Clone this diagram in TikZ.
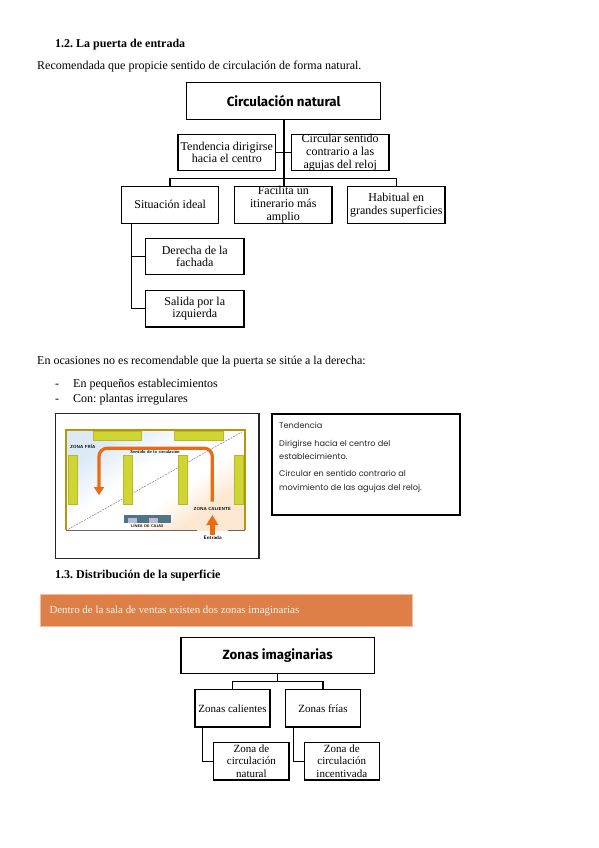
\documentclass[tikz,border=0pt]{standalone}
\usepackage{fontspec}
\setmainfont{Liberation Serif}
\newfontfamily\geofont{Poppins}
\newfontfamily\markfont{Fira Sans}
\usetikzlibrary{arrows.meta,calc}
\definecolor{shelfgreen}{HTML}{CFD533}
\definecolor{shelfedge}{HTML}{B5B92A}
\definecolor{flow}{HTML}{EE6A10}
\definecolor{gold}{HTML}{B8960C}
\definecolor{band}{HTML}{DD7F47}
\definecolor{bandedge}{HTML}{F2BE9C}
\definecolor{till}{HTML}{4F7486}
\definecolor{tillscreen}{HTML}{B9B9DC}
\definecolor{washblue}{HTML}{DCEAF7}
\definecolor{washpeach}{HTML}{FCE8D2}
\pgfdeclareverticalshading{planwash}{100bp}{color(0bp)=(washpeach); color(30bp)=(washpeach); color(42bp)=(white); color(56bp)=(white); color(72bp)=(washblue); color(100bp)=(washblue)}
\frenchspacing
\tikzset{
  x=1pt,y=-1pt,
  doc/.style={anchor=base west,inner sep=0,font=\fontsize{12}{13}\selectfont},
  head/.style={doc,font=\fontsize{12}{13}\selectfont\bfseries},
  bx/.style={draw=black,line width=1.2pt,fill=white,inner sep=0,align=center,font=\fontsize{12}{12.7}\selectfont,outer sep=0},
  smallbx/.style={bx,font=\fontsize{11}{12.7}\selectfont},
  titlebx/.style={bx,font=\fontsize{13.3}{14}\selectfont\markfont\bfseries},
  link/.style={draw=black,line width=1.1pt},
  shelf/.style={draw=shelfedge,line width=.5pt,fill=shelfgreen},
  flowline/.style={draw=flow,line width=3.2pt},
  tiny/.style={inner sep=0,font=\fontsize{4.4}{5}\selectfont\sffamily\bfseries},
  note/.style={anchor=base west,inner sep=0,text=black!85,font=\fontsize{8.2}{9}\selectfont\geofont},
}
\begin{document}
\begin{tikzpicture}
\useasboundingbox (0,0) rectangle (599,848);
\fill[white] (0,0) rectangle (599,848);

% page text
\node[head] (h1) at (55,47.5) {1.2. La puerta de entrada};
\node[doc] (p1) at (37,70) {Recomendada que propicie sentido de circulación de forma natural.};
\node[doc] (p2) at (37,364.3) {En ocasiones no es recomendable que la puerta se sitúe a la derecha:};
\node[doc] (d1) at (55,387.5) {-};
\node[doc] (l1) at (73,387.5) {En pequeños establecimientos};
\node[doc] (d2) at (55,402.5) {-};
\node[doc] (l2) at (73,402.5) {Con: plantas irregulares};
\node[head] (h2) at (55,578.5) {1.3. Distribución de la superficie};

% first chart
\node[titlebx,minimum width=194,minimum height=36.6] (cn) at (283.7,101) {Circulación natural};
\node[bx,minimum width=97.7,minimum height=36.4] (ten) at (226.8,152.5) {Tendencia dirigirse\\hacia el centro};
\node[bx,minimum width=97.7,minimum height=36.4] (cir) at (340.2,152.5) {Circular sentido\\contrario a las\\agujas del reloj};
\node[bx,minimum width=97,minimum height=37] (sit) at (170.2,204.8) {Situación ideal};
\node[bx,minimum width=97.3,minimum height=37] (fac) at (283.3,204.8) {Facilita un\\itinerario más\\amplio};
\node[bx,minimum width=97.3,minimum height=37] (hab) at (396.3,204.8) {Habitual en\\grandes superficies};
\node[bx,minimum width=98.3,minimum height=36.4] (der) at (194.8,256.5) {Derecha de la\\fachada};
\node[bx,minimum width=98.3,minimum height=36.7] (sal) at (194.8,308.6) {Salida por la\\izquierda};
\coordinate (hub) at (284,178.3);
\coordinate (leftdrop) at (170,178.3);
\coordinate (rightdrop) at (396.5,178.3);
\coordinate (stem) at (131.7,223.3);
\draw[link] (cn.south -| hub) -- (hub);
\draw[link] (ten.east) -- (cir.west);
\draw[link] (sit.north -| leftdrop) -- (leftdrop) -- (rightdrop) -- (hab.north -| rightdrop);
\draw[link] (hub) -- (fac.north -| hub);
\draw[link] (stem) -- (stem |- sal.west) -- (sal.west);
\draw[link] (stem |- der.west) -- (der.west);

% plan picture
\draw[black!85,line width=1.5pt,fill=white] (55.3,413.3) rectangle (259,558.3);
\shade[shading=planwash,shading angle=35] (66,430) rectangle (245,530.5);
\draw[gold,line width=1.2pt] (66,530) -- (66,430) -- (245,430) -- (245,530);
\draw[black!60,line width=1pt] (66,530.3) -- (196.7,530.3);
\draw[black!60,line width=1pt] (227.7,530.3) -- (245,530.3);
\draw[black!55,line width=.45pt,dash pattern=on 2pt off 1pt] (68.3,529.3) -- (242.3,431.7);
\draw[shelf] (93.3,431.7) rectangle (141.7,440.7);
\draw[shelf] (174.7,431.7) rectangle (223.3,440.7);
\draw[shelf] (68.7,455.7) rectangle (77.3,504.3);
\draw[shelf] (123.3,455.7) rectangle (132.7,504.3);
\draw[shelf] (178.3,455.7) rectangle (187.7,504.3);
\draw[shelf] (234.7,455.7) rectangle (243.7,504.3);
\fill[till] (124.3,515) rectangle (170.7,523.3);
\fill[tillscreen] (128,518) rectangle (137,523.3);
\fill[tillscreen] (149,518) rectangle (158,523.3);
\draw[flowline,rounded corners=8pt,-{Triangle[length=8pt,width=10pt]}] (212.3,501.5) -- (212.3,448.3) -- (99,448.3) -- (99,495);
\draw[flowline,line width=4.5pt,-{Triangle[length=10pt,width=11.5pt]}] (212.3,535) -- (212.3,515);
\node[tiny] (zf) at (82.7,446.7) {ZONA FRÍA};
\node[tiny] (sc) at (155,452) {Sentido de la circulación};
\node[tiny] (zc) at (212.3,508.7) {ZONA CALIENTE};
\node[tiny,font=\fontsize{3.8}{5}\selectfont\sffamily\bfseries] (lc) at (147.3,525.8) {LÍNEA DE CAJAS};
\node[tiny,font=\fontsize{5}{6}\selectfont\sffamily\bfseries] (en) at (212.7,537.5) {Entrada};

% note box
\draw[black,line width=2pt,fill=white] (272.3,414.3) rectangle (460,515);
\node[note] (n1) at (279,428) {Tendencia};
\node[note] (n2) at (279,446) {Dirigirse hacia el centro del};
\node[note] (n3) at (279,459.3) {establecimiento.};
\node[note] (n4) at (279,476.7) {Circular en sentido contrario al};
\node[note] (n5) at (279,490.3) {movimiento de las agujas del reloj.};

% band
\draw[bandedge,line width=1pt,fill=band] (40,594) rectangle (412.7,626);
\node[anchor=base west,inner sep=0,text=white!92!band,font=\fontsize{10.9}{12}\selectfont] (bt) at (49.3,613.7) {Dentro de la sala de ventas existen dos zonas imaginarias};

% second chart
\node[titlebx,minimum width=193.3,minimum height=36.4] (zi) at (277.7,655.5) {Zonas imaginarias};
\node[smallbx,minimum width=75,minimum height=37.3] (zca) at (232.5,708.3) {Zonas calientes};
\node[smallbx,minimum width=74.6,minimum height=37.3] (zfr) at (323,708.3) {Zonas frías};
\node[smallbx,minimum width=75.3,minimum height=37.7] (zna) at (251.4,761.2) {Zona de\\circulación\\natural};
\node[smallbx,minimum width=75,minimum height=37.7] (zin) at (341.8,761.2) {Zona de\\circulación\\incentivada};
\coordinate (hub2) at (277.7,681.7);
\coordinate (ls) at (202.7,727);
\coordinate (rs) at (293.5,727);
\draw[link] (zi.south -| hub2) -- (hub2);
\draw[link] (zca.north) -- (zca.north |- hub2) -- (zfr.north |- hub2) -- (zfr.north);
\draw[link] (ls) -- (ls |- zna.west) -- (zna.west);
\draw[link] (rs) -- (rs |- zin.west) -- (zin.west);
\end{tikzpicture}
\end{document}
